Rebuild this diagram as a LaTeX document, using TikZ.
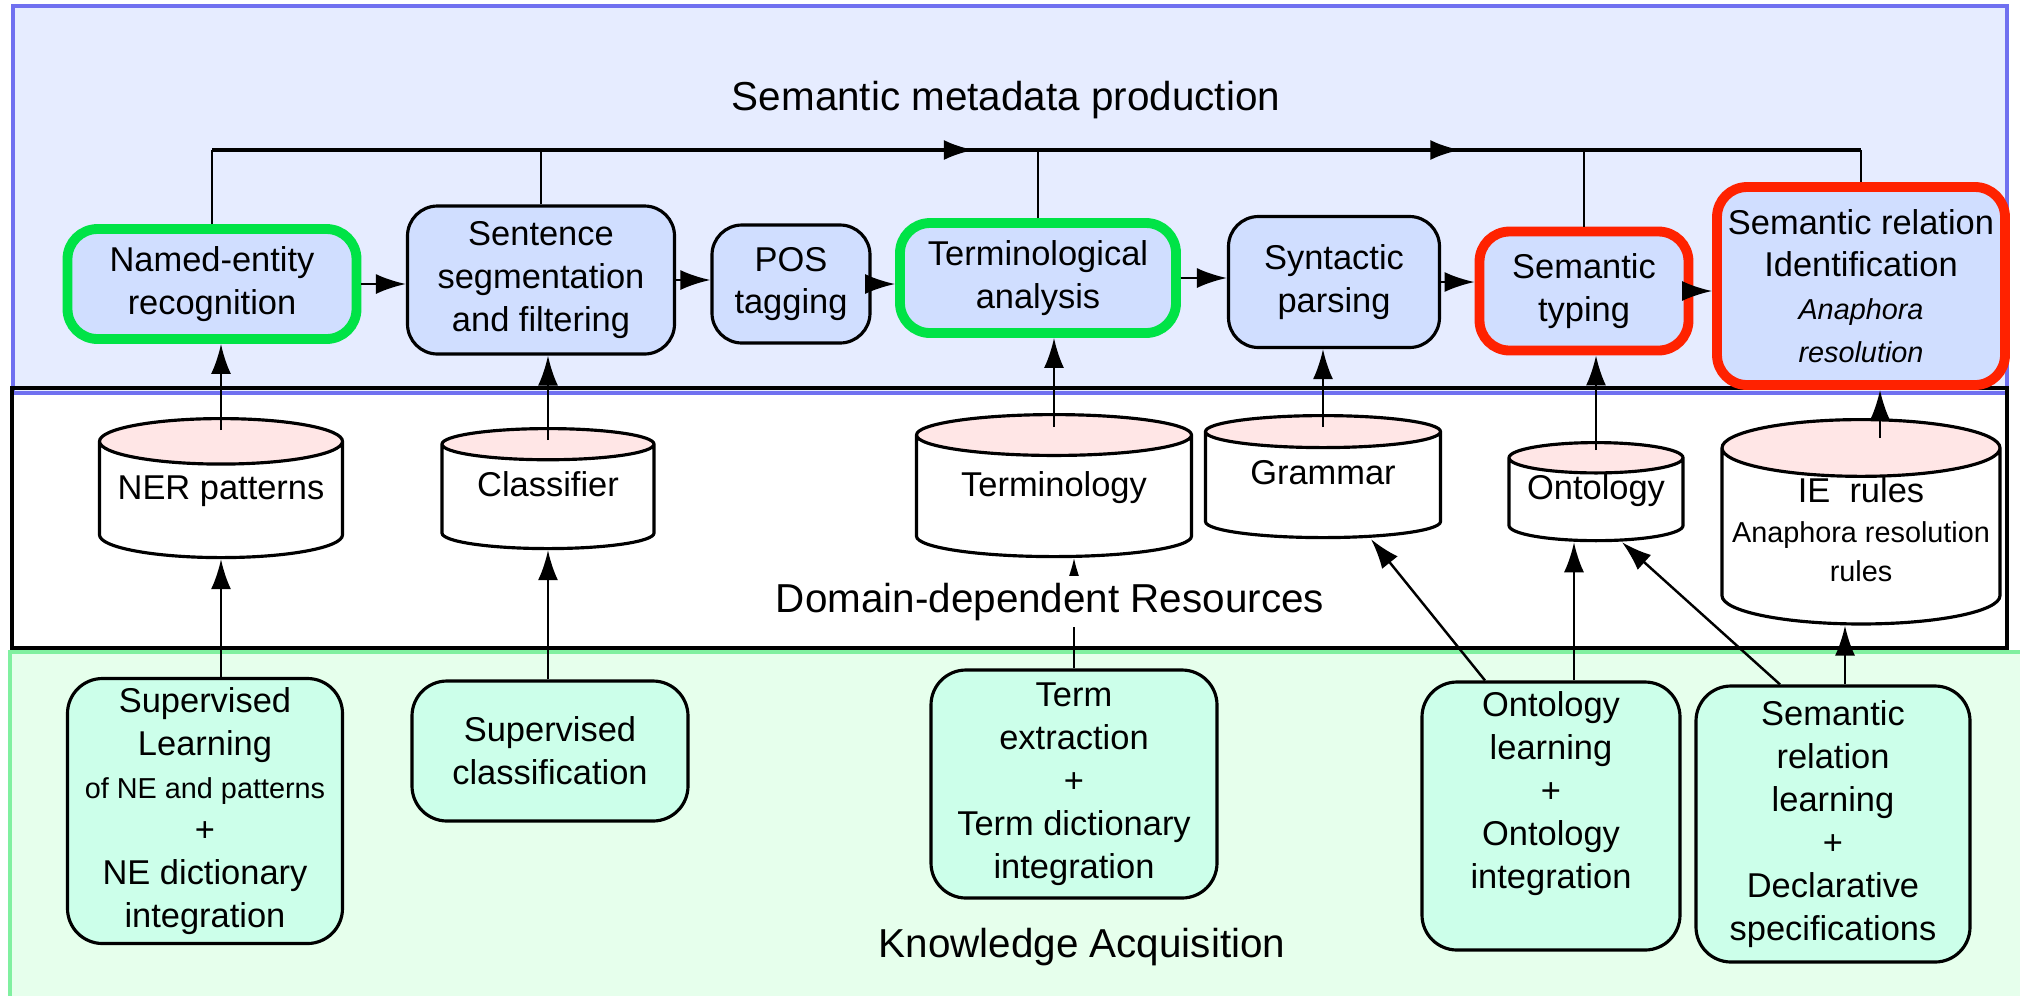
\documentclass[tikz,border=0pt]{standalone}
\usepackage{fontspec}
\setmainfont{Liberation Sans}
\usepackage{tikz}
\usetikzlibrary{shapes.geometric,arrows.meta,calc,decorations.markings}

\definecolor{topbg}{HTML}{E6ECFF}
\definecolor{topline}{HTML}{7070F0}
\definecolor{botbg}{HTML}{E6FFEC}
\definecolor{botline}{HTML}{80F0A0}
\definecolor{procfill}{HTML}{D0DEFF}
\definecolor{dbtop}{HTML}{FFE6E6}
\definecolor{acqfill}{HTML}{CCFFEA}
\definecolor{okgreen}{HTML}{00E346}
\definecolor{hotred}{HTML}{FF2200}

\newcommand{\notefont}{\fontsize{8.2}{10}\selectfont}

\begin{document}
\begin{tikzpicture}[
    font=\fontsize{9.8}{12.2}\selectfont,
    proc/.style={rectangle, rounded corners=0.3cm, draw, line width=0.9pt, fill=procfill, align=center, inner sep=1pt},
    acq/.style={rectangle, rounded corners=0.35cm, draw, line width=0.9pt, fill=acqfill, align=center, inner sep=1pt},
    db/.style={cylinder, shape border rotate=90, aspect=0.22, draw, line width=0.9pt, cylinder uses custom fill, cylinder end fill=dbtop, cylinder body fill=white, align=center, inner sep=0pt, anchor=north},
    dbline/.style={text height=0.25cm, text depth=0.26cm},
    greenhl/.style={draw=okgreen, line width=2.8pt},
    redhl/.style={draw=hotred, line width=2.8pt},
    arrow/.style={-{Latex[length=3mm,width=2mm]}, line width=0.7pt},
    link/.style={line width=0.7pt},
    paneltitle/.style={font=\fontsize{11.5}{14}\selectfont, anchor=base},
    bus/.style={line width=1pt, postaction={decorate}, decoration={markings,
        mark=at position 0.462 with {\arrow{Latex[length=3mm,width=2mm]}},
        mark=at position 0.757 with {\arrow{Latex[length=3mm,width=2mm]}}}}
]
    \useasboundingbox (0,0) rectangle (20.20,-9.95);
    \fill[white] (0,0) rectangle (20.20,-9.95);

    % Panels
    \draw[fill=topbg, draw=topline, line width=1pt] (0.13,-0.06) rectangle (20.07,-3.93);
    \draw[line width=1.2pt] (0.12,-3.88) rectangle (20.07,-6.48);
    \draw[fill=botbg, draw=botline, line width=1pt] (0.10,-6.52) rectangle (20.40,-10.20);

    \node[paneltitle] (ttop) at (10.06,-1.10) {Semantic metadata production};
    \node[paneltitle] (tbot) at (10.82,-9.57) {Knowledge Acquisition};

    % Semantic metadata production
    \node[proc, greenhl, minimum width=2.89cm, minimum height=1.10cm] (ner) at (2.12,-2.84) {Named-entity\\recognition};
    \node[proc, minimum width=2.67cm, minimum height=1.48cm] (sent) at (5.41,-2.80) {Sentence\\segmentation\\and filtering};
    \node[proc, minimum width=1.58cm, minimum height=1.18cm] (pos) at (7.91,-2.84) {POS\\tagging};
    \node[proc, greenhl, minimum width=2.76cm, minimum height=1.10cm] (term) at (10.38,-2.78) {Terminological\\analysis};
    \node[proc, minimum width=2.11cm, minimum height=1.31cm] (synt) at (13.34,-2.82) {Syntactic\\parsing};
    \node[proc, redhl, minimum width=2.09cm, minimum height=1.19cm] (semtyp) at (15.84,-2.91) {Semantic\\typing};
    \node[proc, redhl, minimum width=2.88cm, minimum height=1.98cm] (semrel) at (18.61,-2.86) {Semantic relation\\Identification\\{\notefont\itshape Anaphora}\\{\notefont\itshape resolution}};

    % Domain-dependent resources
    \node[db, dbline, minimum width=2.43cm, minimum height=1.39cm] (nerdb) at (2.21,-4.17) {NER patterns};
    \node[db, dbline, minimum width=2.12cm, minimum height=1.20cm] (clsdb) at (5.48,-4.27) {Classifier};
    \node[db, dbline, minimum width=2.75cm, minimum height=1.42cm] (termdb) at (10.54,-4.13) {Terminology};
    \node[db, dbline, minimum width=2.35cm, minimum height=1.22cm] (gramdb) at (13.23,-4.14) {Grammar};
    \node[db, dbline, minimum width=1.74cm, minimum height=0.92cm] (ontodb) at (15.96,-4.41) {Ontology};
    \node[db, text depth=0.14cm, minimum width=2.78cm, minimum height=1.93cm] (iedb) at (18.61,-4.18) {IE~~rules\\[-1pt]{\notefont Anaphora resolution}\\[-1pt]{\notefont rules}};

    % Knowledge acquisition
    \node[acq, minimum width=2.75cm, minimum height=2.65cm] (nelearn) at (2.05,-8.11) {Supervised\\Learning\\{\notefont of NE and patterns}\\+\\NE dictionary\\integration};
    \node[acq, minimum width=2.76cm, minimum height=1.40cm] (supclass) at (5.50,-7.51) {Supervised\\classification};
    \node[acq, minimum width=2.86cm, minimum height=2.28cm] (termext) at (10.74,-7.84) {Term\\extraction\\+\\Term dictionary\\integration};
    \node[acq, text depth=0.52cm, minimum width=2.58cm, minimum height=2.68cm] (ontolearn) at (15.51,-8.16) {Ontology\\learning\\+\\Ontology\\integration};
    \node[acq, minimum width=2.74cm, minimum height=2.76cm] (semlearn) at (18.33,-8.24) {Semantic\\relation\\learning\\+\\Declarative\\specifications};

    % Processing chain
    \draw[arrow] (ner.east) -- (ner.east -| sent.west);
    \draw[arrow] (sent.east) -- (sent.east -| pos.west);
    \draw[arrow] (pos.east) -- (pos.east -| term.west);
    \draw[arrow] (term.east) -- (term.east -| synt.west);
    \draw[arrow] (synt.east) -- (synt.east -| semtyp.west);
    \draw[arrow] (semtyp.east) -- (semtyp.east -| semrel.west);

    % Annotation bus
    \coordinate (busL) at (ner.north |- 0,-1.50);
    \coordinate (busR) at (semrel.north |- 0,-1.50);
    \draw[link] (ner.north) -- (busL);
    \draw[bus] (busL) -- (busR);
    \draw[link] (busR) -- (semrel.north);
    \draw[link] (sent.north) -- (sent.north |- busL);
    \draw[link] (term.north) -- (term.north |- busL);
    \draw[link] (semtyp.north) -- (semtyp.north |- busL);

    % Resources feed the processing steps
    \draw[arrow] ([yshift=-0.13cm]nerdb.north) -- (nerdb.north |- ner.south);
    \draw[arrow] ([yshift=-0.13cm]clsdb.north) -- (clsdb.north |- sent.south);
    \draw[arrow] ([yshift=-0.14cm]termdb.north) -- (termdb.north |- term.south);
    \draw[arrow] ([yshift=-0.13cm]gramdb.north) -- (gramdb.north |- synt.south);
    \draw[arrow] ([yshift=-0.09cm]ontodb.north) -- (ontodb.north |- semtyp.south);
    \draw[arrow] ([xshift=0.19cm, yshift=-0.20cm]iedb.north) -- ([xshift=0.19cm]iedb.north |- semrel.south);

    % Acquisition builds the resources
    \draw[arrow] (nerdb.south |- nelearn.north) -- (nerdb.south);
    \draw[arrow] (clsdb.south |- supclass.north) -- (clsdb.south);
    \draw[arrow] (termext.north) -- (termext.north |- termdb.south);
    \path (ontolearn.north) ++(-0.66,0) coordinate (olA) ++(0.89,0) coordinate (olB);
    \path (semlearn.north) ++(-0.53,0) coordinate (slA) ++(0.65,0) coordinate (slB);
    \draw[arrow] (olA) -- ([xshift=0.48cm]gramdb.south);
    \draw[arrow] (olB) -- (olB |- ontodb.south);
    \draw[arrow] (slA) -- ([xshift=0.26cm]ontodb.south);
    \draw[arrow] (slB) -- (slB |- iedb.south);

    \node[paneltitle, fill=white, inner xsep=2pt, inner ysep=0.07cm] (tmid) at (10.50,-6.12) {Domain-dependent Resources};
\end{tikzpicture}
\end{document}
